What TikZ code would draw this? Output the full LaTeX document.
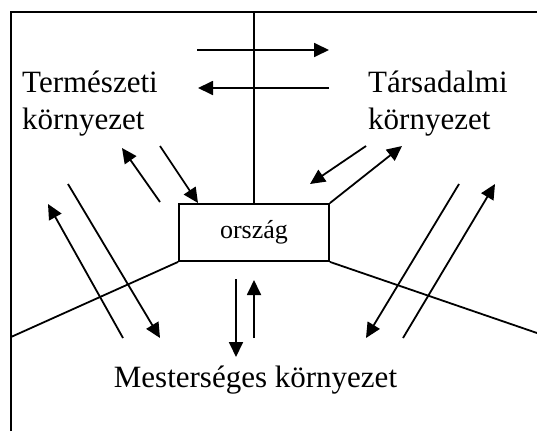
\documentclass[tikz,border=0pt]{standalone}
\usepackage{fontspec}
\setmainfont{Liberation Serif}
\usetikzlibrary{arrows.meta}
\tikzstyle{envtext} = [font=\fontsize{31}{37}\selectfont, inner sep=0pt, align=left]
\tikzstyle{country} = [rectangle, draw=black, line width=1.8pt, minimum width=150pt, minimum height=57pt, inner sep=0pt, font=\fontsize{26}{30}\selectfont]
\tikzstyle{border} = [line width=1.8pt]
\tikzstyle{arrow} = [line width=1.8pt, -{Triangle[length=15pt,width=14pt]}]
\begin{document}
\begin{tikzpicture}[x=1pt, y=-1pt]
        \useasboundingbox (0,0) rectangle (537,431);
        % frame
        \draw [border] (11,431) -- (11,12) -- (537,12);

        \node (orszag) [country] at (254,232.5) {ország};
        \node (termeszeti) [envtext, anchor=base west] at (22,129) {Természeti\\környezet};
        \node (tarsadalmi) [envtext, anchor=base west] at (368,129) {Társadalmi\\környezet};
        \node (mesterseges) [envtext, anchor=base] at (255.5,387) {Mesterséges környezet};

        \coordinate (top) at (254,12);
        \coordinate (leftend) at (11,337);
        \coordinate (rightend) at (537,333);
        \draw [border] (orszag.north) -- (top);
        \draw [border] (orszag.south west) -- (leftend);
        \draw [border] (orszag.south east) -- (rightend);

        % top pair
        \coordinate (outA) at (197,50);
        \coordinate (outB) at (329,50);
        \coordinate (inA) at (329,88);
        \coordinate (inB) at (198,88);
        \draw [arrow] (outA) -- (outB);
        \draw [arrow] (inA) -- (inB);

        % natural environment
        \coordinate (natA) at (160,202);
        \coordinate (natB) at (122,148);
        \coordinate (natC) at (160,146);
        \coordinate (natD) at (198,203);
        \draw [arrow] (natA) -- (natB);
        \draw [arrow] (natC) -- (natD);

        % social environment
        \coordinate (socA) at (366,146);
        \coordinate (socB) at (310,184);
        \coordinate (socC) at (402,146);
        \draw [arrow] (socA) -- (socB);
        \draw [arrow] (orszag.north east) -- (socC);

        % artificial environment
        \coordinate (artA) at (123,338);
        \coordinate (artB) at (48,204);
        \coordinate (artC) at (68,184);
        \coordinate (artD) at (160,338);
        \coordinate (artE) at (236,279);
        \coordinate (artF) at (236,357);
        \coordinate (artG) at (254,338);
        \coordinate (artH) at (254,280);
        \coordinate (artI) at (459,184);
        \coordinate (artJ) at (366,338);
        \coordinate (artK) at (403,338);
        \coordinate (artL) at (495,184);
        \draw [arrow] (artA) -- (artB);
        \draw [arrow] (artC) -- (artD);
        \draw [arrow] (artE) -- (artF);
        \draw [arrow] (artG) -- (artH);
        \draw [arrow] (artI) -- (artJ);
        \draw [arrow] (artK) -- (artL);
    \end{tikzpicture}
\end{document}
